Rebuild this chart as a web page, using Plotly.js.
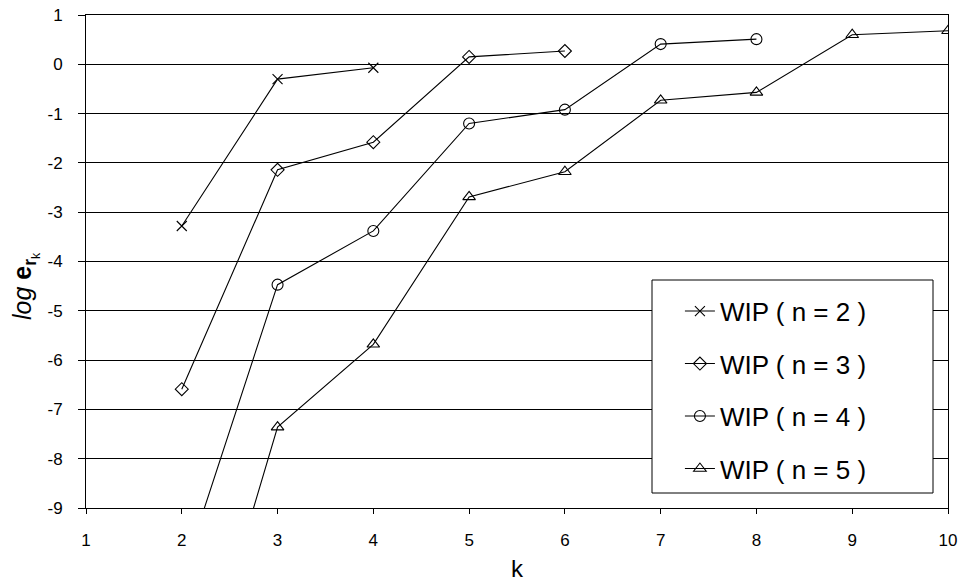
<!DOCTYPE html>
<html>
<head>
<meta charset="utf-8">
<script src="https://cdn.plot.ly/plotly-3.0.1.min.js"></script>
<style>html,body{margin:0;padding:0;background:#fff;}#chart{width:963px;height:582px;}</style>
</head>
<body>
<div id="chart"></div>
<script>
// Data
const k2 = [2, 3, 4];
const wipN2 = [-3.28, -0.30, -0.07];
const k3 = [2, 3, 4, 5, 6];
const wipN3 = [-6.59, -2.14, -1.58, 0.15, 0.27];
const k4 = [2, 3, 4, 5, 6, 7, 8];
const wipN4 = [-10.4, -4.47, -3.38, -1.20, -0.92, 0.41, 0.51];
const k5 = [2, 3, 4, 5, 6, 7, 8, 9, 10];
const wipN5 = [-13.9, -7.36, -5.68, -2.69, -2.18, -0.73, -0.57, 0.60, 0.68];
const seriesNames = ["WIP ( n = 2 )", "WIP ( n = 3 )", "WIP ( n = 4 )", "WIP ( n = 5 )"];
const xTicks = [1, 2, 3, 4, 5, 6, 7, 8, 9, 10];
const yTicks = [-9, -8, -7, -6, -5, -4, -3, -2, -1, 0, 1];
const yTitle = "<i>log</i> <b>e</b><sub><b>r</b><sub>k</sub></sub>";

const FONT = "Liberation Sans, Arial, sans-serif";
const markerStyles = [
  {symbol: "x-thin-open", size: 10},
  {symbol: "diamond-open", size: 10},
  {symbol: "circle-open", size: 11},
  {symbol: "triangle-up-open", size: 11}
];
const xs = [k2, k3, k4, k5];
const ys = [wipN2, wipN3, wipN4, wipN5];

const traces = xs.map((x, i) => ({
  type: "scatter",
  mode: "lines+markers",
  x: x,
  y: ys[i],
  name: seriesNames[i],
  legendgroup: "g" + i,
  line: {color: "#000", width: 1.1},
  marker: {symbol: markerStyles[i].symbol, size: markerStyles[i].size, color: "#000",
           line: {color: "#000", width: 1.1}}
}));

const layout = {
  width: 963, height: 582,
  margin: {l: 86, r: 15, t: 15, b: 74},
  paper_bgcolor: "#fff", plot_bgcolor: "#fff",
  font: {family: FONT, color: "#000", size: 17},
  showlegend: true,
  legend: {
    x: 0.689, y: 0.447, xanchor: "left", yanchor: "top",
    bgcolor: "rgba(0,0,0,0)", borderwidth: 0,
    font: {family: FONT, size: 26, color: "#000"},
    traceorder: "grouped", tracegroupgap: 15.7, itemwidth: 30
  },
  shapes: [{
    type: "rect", xref: "paper", yref: "paper",
    x0: (652 - 86) / 862, x1: (933 - 86) / 862,
    y0: (508 - 493) / 493, y1: (508 - 280) / 493,
    line: {color: "#000", width: 1}, fillcolor: "#fff", layer: "above"
  }],
  annotations: [{
    text: yTitle, xref: "paper", yref: "paper",
    x: (26 - 86) / 862, y: (508 - 286) / 493,
    xanchor: "center", yanchor: "middle", textangle: -90,
    showarrow: false, font: {family: FONT, size: 25, color: "#000"}
  }],
  xaxis: {
    range: [1, 10], tickvals: xTicks, ticktext: xTicks.map(String),
    showline: true, linecolor: "#000", linewidth: 1, mirror: true,
    ticks: "outside", ticklen: 5, tickcolor: "#000",
    showgrid: false, zeroline: false,
    tickfont: {family: FONT, size: 17},
    ticklabelstandoff: 12,
    title: {text: "k", font: {family: FONT, size: 24}, standoff: 10}
  },
  yaxis: {
    range: [-9, 1], tickvals: yTicks, ticktext: yTicks.map(String),
    showline: true, linecolor: "#000", linewidth: 1, mirror: true,
    ticks: "outside", ticklen: 7, tickcolor: "#000",
    showgrid: true, gridcolor: "#000", gridwidth: 1, zeroline: false,
    tickfont: {family: FONT, size: 17},
    ticklabelstandoff: 12
  }
};

Plotly.newPlot("chart", traces, layout, {staticPlot: true, displayModeBar: false});
</script>
</body>
</html>
